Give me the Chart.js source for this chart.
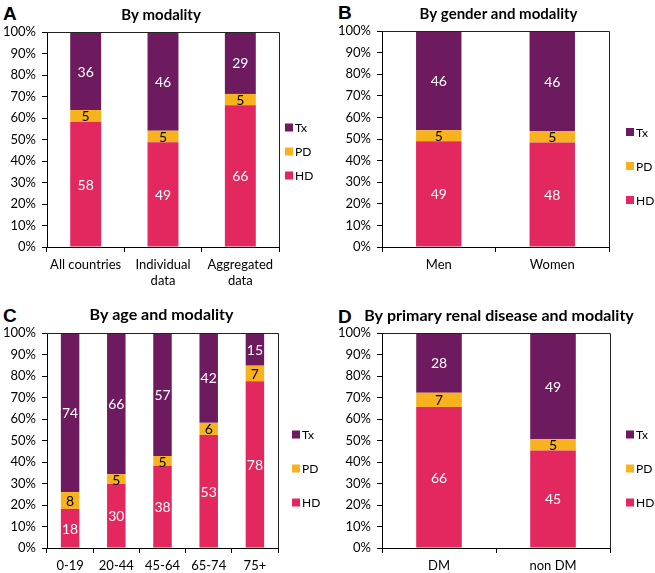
<!DOCTYPE html>
<html>
<head>
<meta charset="utf-8">
<script src="https://cdn.jsdelivr.net/npm/chart.js@4.4.1/dist/chart.umd.min.js"></script>
<style>
  body { margin: 0; background: #fff; }
  #wrap { position: relative; width: 655px; height: 573px; overflow: hidden; }
  canvas { position: absolute; }
  .letter { position: absolute; font: bold 19px "Liberation Sans", Arial, sans-serif; color: #000; line-height: 1; }
</style>
</head>
<body>
<div id="wrap">
  <div class="letter" style="left:3px;top:4px">A</div>
  <div class="letter" style="left:338px;top:3px">B</div>
  <div class="letter" style="left:3px;top:306px">C</div>
  <div class="letter" style="left:338px;top:307px">D</div>
  <canvas id="chartA" width="325" height="290" style="left:0;top:0"></canvas>
  <canvas id="chartB" width="330" height="290" style="left:325px;top:0"></canvas>
  <canvas id="chartC" width="325" height="283" style="left:0;top:290px"></canvas>
  <canvas id="chartD" width="330" height="283" style="left:325px;top:290px"></canvas>
</div>
<script>
// A - by modality
const categoriesA = ['All countries', ['Individual', 'data'], ['Aggregated', 'data']];
const hdA = [58.3, 48.7, 65.9];
const pdA = [5.4, 5.4, 5.3];
const txA = [36.3, 45.9, 28.8];

// B - by gender
const categoriesB = ['Men', 'Women'];
const hdB = [49.0, 48.4];
const pdB = [5.1, 5.3];
const txB = [45.9, 46.3];

// C - by age
const categoriesC = ['0-19', '20-44', '45-64', '65-74', '75+'];
const hdC = [18.2, 29.8, 38.1, 52.6, 77.6];
const pdC = [7.8, 4.5, 4.7, 5.6, 7.2];
const txC = [74.0, 65.7, 57.2, 41.8, 15.2];

// D - by primary renal disease
const categoriesD = ['DM', 'non DM'];
const hdD = [65.6, 45.4];
const pdD = [6.6, 5.2];
const txD = [27.8, 49.4];

const yTicks = [0, 10, 20, 30, 40, 50, 60, 70, 80, 90, 100];

const colors = { HD: '#E2285E', PD: '#F7B21E', Tx: '#6D1B5E' };
const labelColors = { HD: '#fff', PD: '#000', Tx: '#fff' };

Chart.defaults.font.family = 'Lato, "Liberation Sans", sans-serif';
Chart.defaults.color = '#000';

// numbers in the middle of each segment
const segmentLabels = {
    id: 'segmentLabels',
    afterDatasetsDraw(chart) {
        const ctx = chart.ctx;
        ctx.save();
        ctx.font = '14px Lato, sans-serif';
        ctx.textAlign = 'center';
        ctx.textBaseline = 'middle';
        chart.data.datasets.forEach((ds, i) => {
            const meta = chart.getDatasetMeta(i);
            meta.data.forEach((bar, j) => {
                ctx.fillStyle = labelColors[ds.label];
                ctx.fillText(Math.round(ds.data[j]), bar.x, (bar.y + bar.base) / 2 + 1);
            });
        });
        ctx.restore();
    }
};

// top and right edges of the plot box
const frame = {
    id: 'frame',
    afterDraw(chart) {
        const a = chart.chartArea;
        const ctx = chart.ctx;
        ctx.save();
        ctx.strokeStyle = '#222';
        ctx.lineWidth = 1;
        ctx.beginPath();
        ctx.moveTo(a.left, a.top + 0.5);
        ctx.lineTo(a.right + 0.5, a.top + 0.5);
        ctx.lineTo(a.right + 0.5, a.bottom);
        ctx.stroke();
        ctx.restore();
    }
};

// bold heading centred over the plot box (no width squeeze)
const panelTitle = {
    id: 'panelTitle',
    afterDraw(chart, args, opts) {
        const a = chart.chartArea;
        const ctx = chart.ctx;
        ctx.save();
        ctx.font = 'bold ' + opts.size + 'px Lato, sans-serif';
        ctx.fillStyle = '#000';
        ctx.textAlign = 'center';
        ctx.textBaseline = 'middle';
        ctx.fillText(opts.text, (a.left + a.right) / 2 + opts.dx, opts.y);
        ctx.restore();
    }
};

// legend on the right, Tx on top
const sideLegend = {
    id: 'sideLegend',
    afterDraw(chart, args, opts) {
        const a = chart.chartArea;
        const ctx = chart.ctx;
        const items = chart.data.datasets.slice().reverse();
        const cy = (a.top + a.bottom) / 2 + opts.shift;
        ctx.save();
        ctx.font = '12px Lato, sans-serif';
        ctx.textBaseline = 'middle';
        items.forEach((ds, k) => {
            const y = cy + (k - 1) * opts.gap;
            const x = a.right + opts.dx;
            ctx.fillStyle = ds.backgroundColor;
            ctx.fillRect(x, y - 4, 8, 8);
            ctx.fillStyle = '#000';
            ctx.fillText(ds.label, x + 10, y + 1);
        });
        ctx.restore();
    }
};

function makeChart(id, cats, hd, pd, tx, cfg) {
    const ctx = document.getElementById(id).getContext('2d');
    return new Chart(ctx, {
        type: 'bar',
        data: {
            labels: cats,
            datasets: [
                { label: 'HD', data: hd, backgroundColor: colors.HD },
                { label: 'PD', data: pd, backgroundColor: colors.PD },
                { label: 'Tx', data: tx, backgroundColor: colors.Tx }
            ]
        },
        options: {
            responsive: false,
            animation: false,
            layout: { padding: { left: 0, right: cfg.right, top: cfg.top, bottom: 0 } },
            datasets: { bar: { categoryPercentage: 1, barPercentage: 0.4 } },
            plugins: {
                legend: { display: false },
                tooltip: { enabled: false },
                title: { display: false },
                panelTitle: cfg.title,
                sideLegend: cfg.legend
            },
            scales: {
                x: {
                    stacked: true,
                    afterFit: s => { s.height = cfg.xHeight; },
                    grid: { drawOnChartArea: false, drawTicks: true, tickLength: 5, color: '#000', offset: true },
                    border: { color: '#000', width: 1 },
                    ticks: { font: { size: 13 }, padding: 5, maxRotation: 0, autoSkip: false }
                },
                y: {
                    stacked: true,
                    min: 0,
                    max: 100,
                    afterFit: s => { s.width = cfg.yWidth; },
                    afterBuildTicks: s => { s.ticks = yTicks.map(v => ({ value: v })); },
                    grid: { drawOnChartArea: false, drawTicks: true, tickLength: 5, color: '#000' },
                    border: { color: '#000', width: 1 },
                    ticks: { font: { size: 13 }, padding: 6, callback: v => v + '%' }
                }
            }
        },
        plugins: [segmentLabels, frame, panelTitle, sideLegend]
    });
}

makeChart('chartA', categoriesA, hdA, pdA, txA, {
    title: { text: 'By modality', size: 15, dx: -2, y: 15 }, top: 32, right: 46, yWidth: 47, xHeight: 43,
    legend: { dx: 6, gap: 24, shift: 12 }
});
makeChart('chartB', categoriesB, hdB, pdB, txB, {
    title: { text: 'By gender and modality', size: 15, dx: 3, y: 14 }, top: 31, right: 46, yWidth: 57, xHeight: 43,
    legend: { dx: 17, gap: 34, shift: 27 }
});
makeChart('chartC', categoriesC, hdC, pdC, txC, {
    title: { text: 'By age and modality', size: 16, dx: -1, y: 25 }, top: 43, right: 47, yWidth: 47, xHeight: 25,
    legend: { dx: 14, gap: 34, shift: 28 }
});
makeChart('chartD', categoriesD, hdD, pdD, txD, {
    title: { text: 'By primary renal disease and modality', size: 16, dx: 3, y: 26 }, top: 43, right: 45, yWidth: 57, xHeight: 25,
    legend: { dx: 16, gap: 34, shift: 28 }
});
</script>
</body>
</html>
